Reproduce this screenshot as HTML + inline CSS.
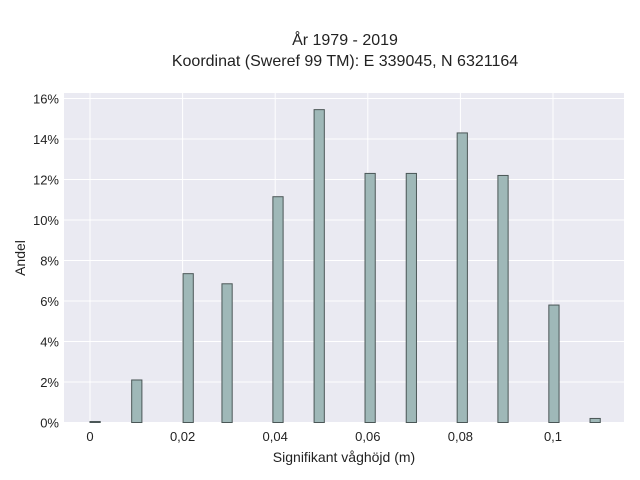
<!DOCTYPE html>
<html><head><meta charset="utf-8"><style>
body{margin:0;background:#fff;}
svg{display:block;font-family:"Liberation Sans",sans-serif;}
</style></head><body>
<svg id="chart" width="640" height="480">
<text x="345" y="45" text-anchor="middle" font-size="16" fill="#222">År 1979 - 2019</text>
<text x="345" y="66" text-anchor="middle" font-size="16" fill="#222">Koordinat (Sweref 99 TM): E 339045, N 6321164</text>
<rect x="64" y="93" width="560" height="330" fill="#eaeaf2"/>
<g id="grid"></g><g id="bars"></g><g id="ticks"></g>
<text x="344" y="462" text-anchor="middle" font-size="14" fill="#222">Signifikant våghöjd (m)</text>
<text x="25" y="258" text-anchor="middle" font-size="14" fill="#222" transform="rotate(-90 25 258)">Andel</text>
</svg>
<script>
const binStarts=[0,0.0090,0.0201,0.0285,0.0395,0.0484,0.0594,0.0683,0.0793,0.0881,0.0991,0.1080];
const shares=[0.05,2.1,7.35,6.85,11.15,15.45,12.3,12.3,14.3,12.2,5.8,0.2];
const binWidth=0.00221;
const xTicks=[0,0.02,0.04,0.06,0.08,0.1];
const xTickLabels=["0","0,02","0,04","0,06","0,08","0,1"];
const yTicks=[0,2,4,6,8,10,12,14,16];
const NS="http://www.w3.org/2000/svg";
const xs=v=>90+v*4630;
const ys=v=>422.5-v*20.25;
function mk(tag,attrs,parent){const e=document.createElementNS(NS,tag);for(const k in attrs)e.setAttribute(k,attrs[k]);parent.appendChild(e);return e;}
const grid=document.getElementById('grid'),bars=document.getElementById('bars'),ticks=document.getElementById('ticks');
xTicks.forEach((t,i)=>{
 const l=mk('line',{x1:xs(t),x2:xs(t),y1:93,y2:423,stroke:'#fff','stroke-width':1},grid);
 
 
 const tx=mk('text',{x:xs(t),y:441,'text-anchor':'middle','font-size':13,fill:'#222'},ticks);
 tx.textContent=xTickLabels[i];
 
 
});
yTicks.forEach(t=>{
 const l=mk('line',{x1:64,x2:624,y1:ys(t),y2:ys(t),stroke:'#fff','stroke-width':1},grid);
 
 
 const tx=mk('text',{x:59,y:ys(t)+5,'text-anchor':'end','font-size':13,fill:'#222'},ticks);
 tx.textContent=t+'%';
 
 
});
binStarts.forEach((b,i)=>{
 const x0=xs(b),x1=xs(b+binWidth),y=ys(shares[i]);
 const r=mk('rect',{x:x0,y:y,width:x1-x0,height:422.5-y,fill:'#9fb8b8',stroke:'#4a5656','stroke-width':1},bars);
 
 
});
</script>
</body></html>
